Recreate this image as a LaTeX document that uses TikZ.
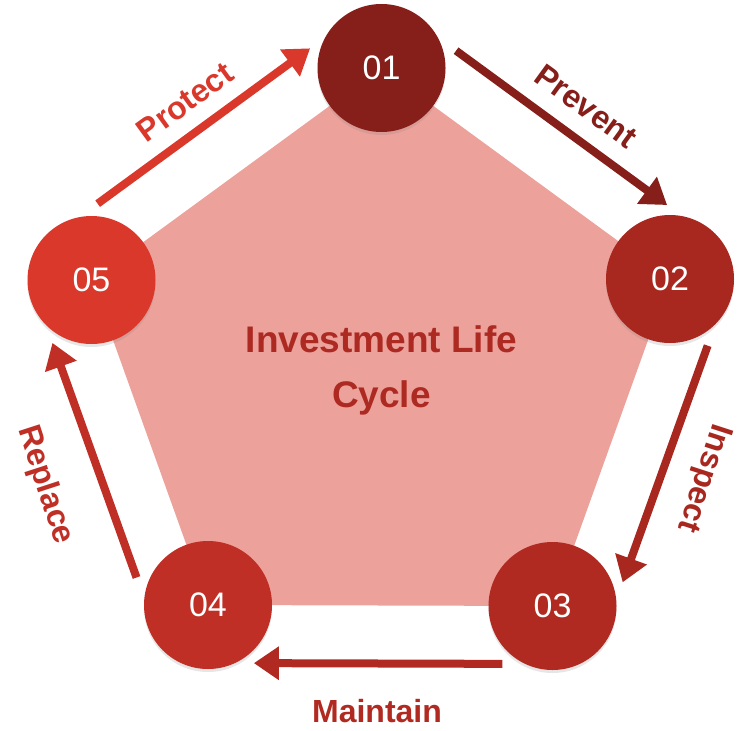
\documentclass[tikz,border=0pt]{standalone}
\usepackage{fontspec}
\setmainfont{Liberation Sans}
\usetikzlibrary{arrows.meta,calc,shadows}

\definecolor{c01}{HTML}{861E1A}
\definecolor{c02}{HTML}{A8271F}
\definecolor{c03}{HTML}{B12A21}
\definecolor{c04}{HTML}{BF2F25}
\definecolor{c05}{HTML}{D9382B}
\definecolor{pentfill}{HTML}{EDA19B}
\definecolor{titlered}{HTML}{AD2A22}

\tikzset{
    stage/.style={circle, minimum size=128pt, inner sep=0pt, text=white,
        font=\fontsize{34}{34}\selectfont,
        drop shadow={shadow xshift=0pt, shadow yshift=-3pt, opacity=0.2}},
    flow/.style={line width=8pt, -{Triangle[length=25pt, width=32pt]}},
    tag/.style={font=\bfseries\fontsize{32}{32}\selectfont, inner sep=0pt},
}

\begin{document}
\begin{tikzpicture}[x=1pt, y=-1pt]
    \useasboundingbox (0,0) rectangle (738,730);
    % pentagon behind the stages
    \fill[pentfill] (381.5,68) -- (670,279) -- (552.5,606) -- (208,605) -- (91.5,280) -- cycle;
    \node[font=\bfseries\fontsize{37}{55}\selectfont, text=titlered, align=center] (title) at (381.5,370) {Investment Life\\Cycle};
    \foreach \n/\x/\y in {01/381.5/68, 02/670/279, 03/552.5/606, 04/208/605, 05/91.5/280} {
        \node[stage, fill=c\n] (s\n) at (\x,\y) {\n};
    }
    \foreach \a/\b in {05/01, 01/02, 02/03, 03/04, 04/05} {
        \draw[flow, c\a] ($(s\a.center)!50pt!(s\b.center)!58pt!90:(s\b.center)$) -- ($(s\b.center)!46pt!(s\a.center)!58pt!-90:(s\a.center)$);
    }
    \node[tag, text=c05, rotate=36] (protect) at (185,102) {Protect};
    \node[tag, text=c01, rotate=-36] (prevent) at (586,106) {Prevent};
    \node[tag, text=c02, rotate=-108] (inspect) at (703,478) {Inspect};
    \node[tag, text=c03] (maintain) at (377,711) {Maintain};
    \node[tag, text=c04, rotate=-72] (replace) at (45,485) {Replace};
\end{tikzpicture}
\end{document}
